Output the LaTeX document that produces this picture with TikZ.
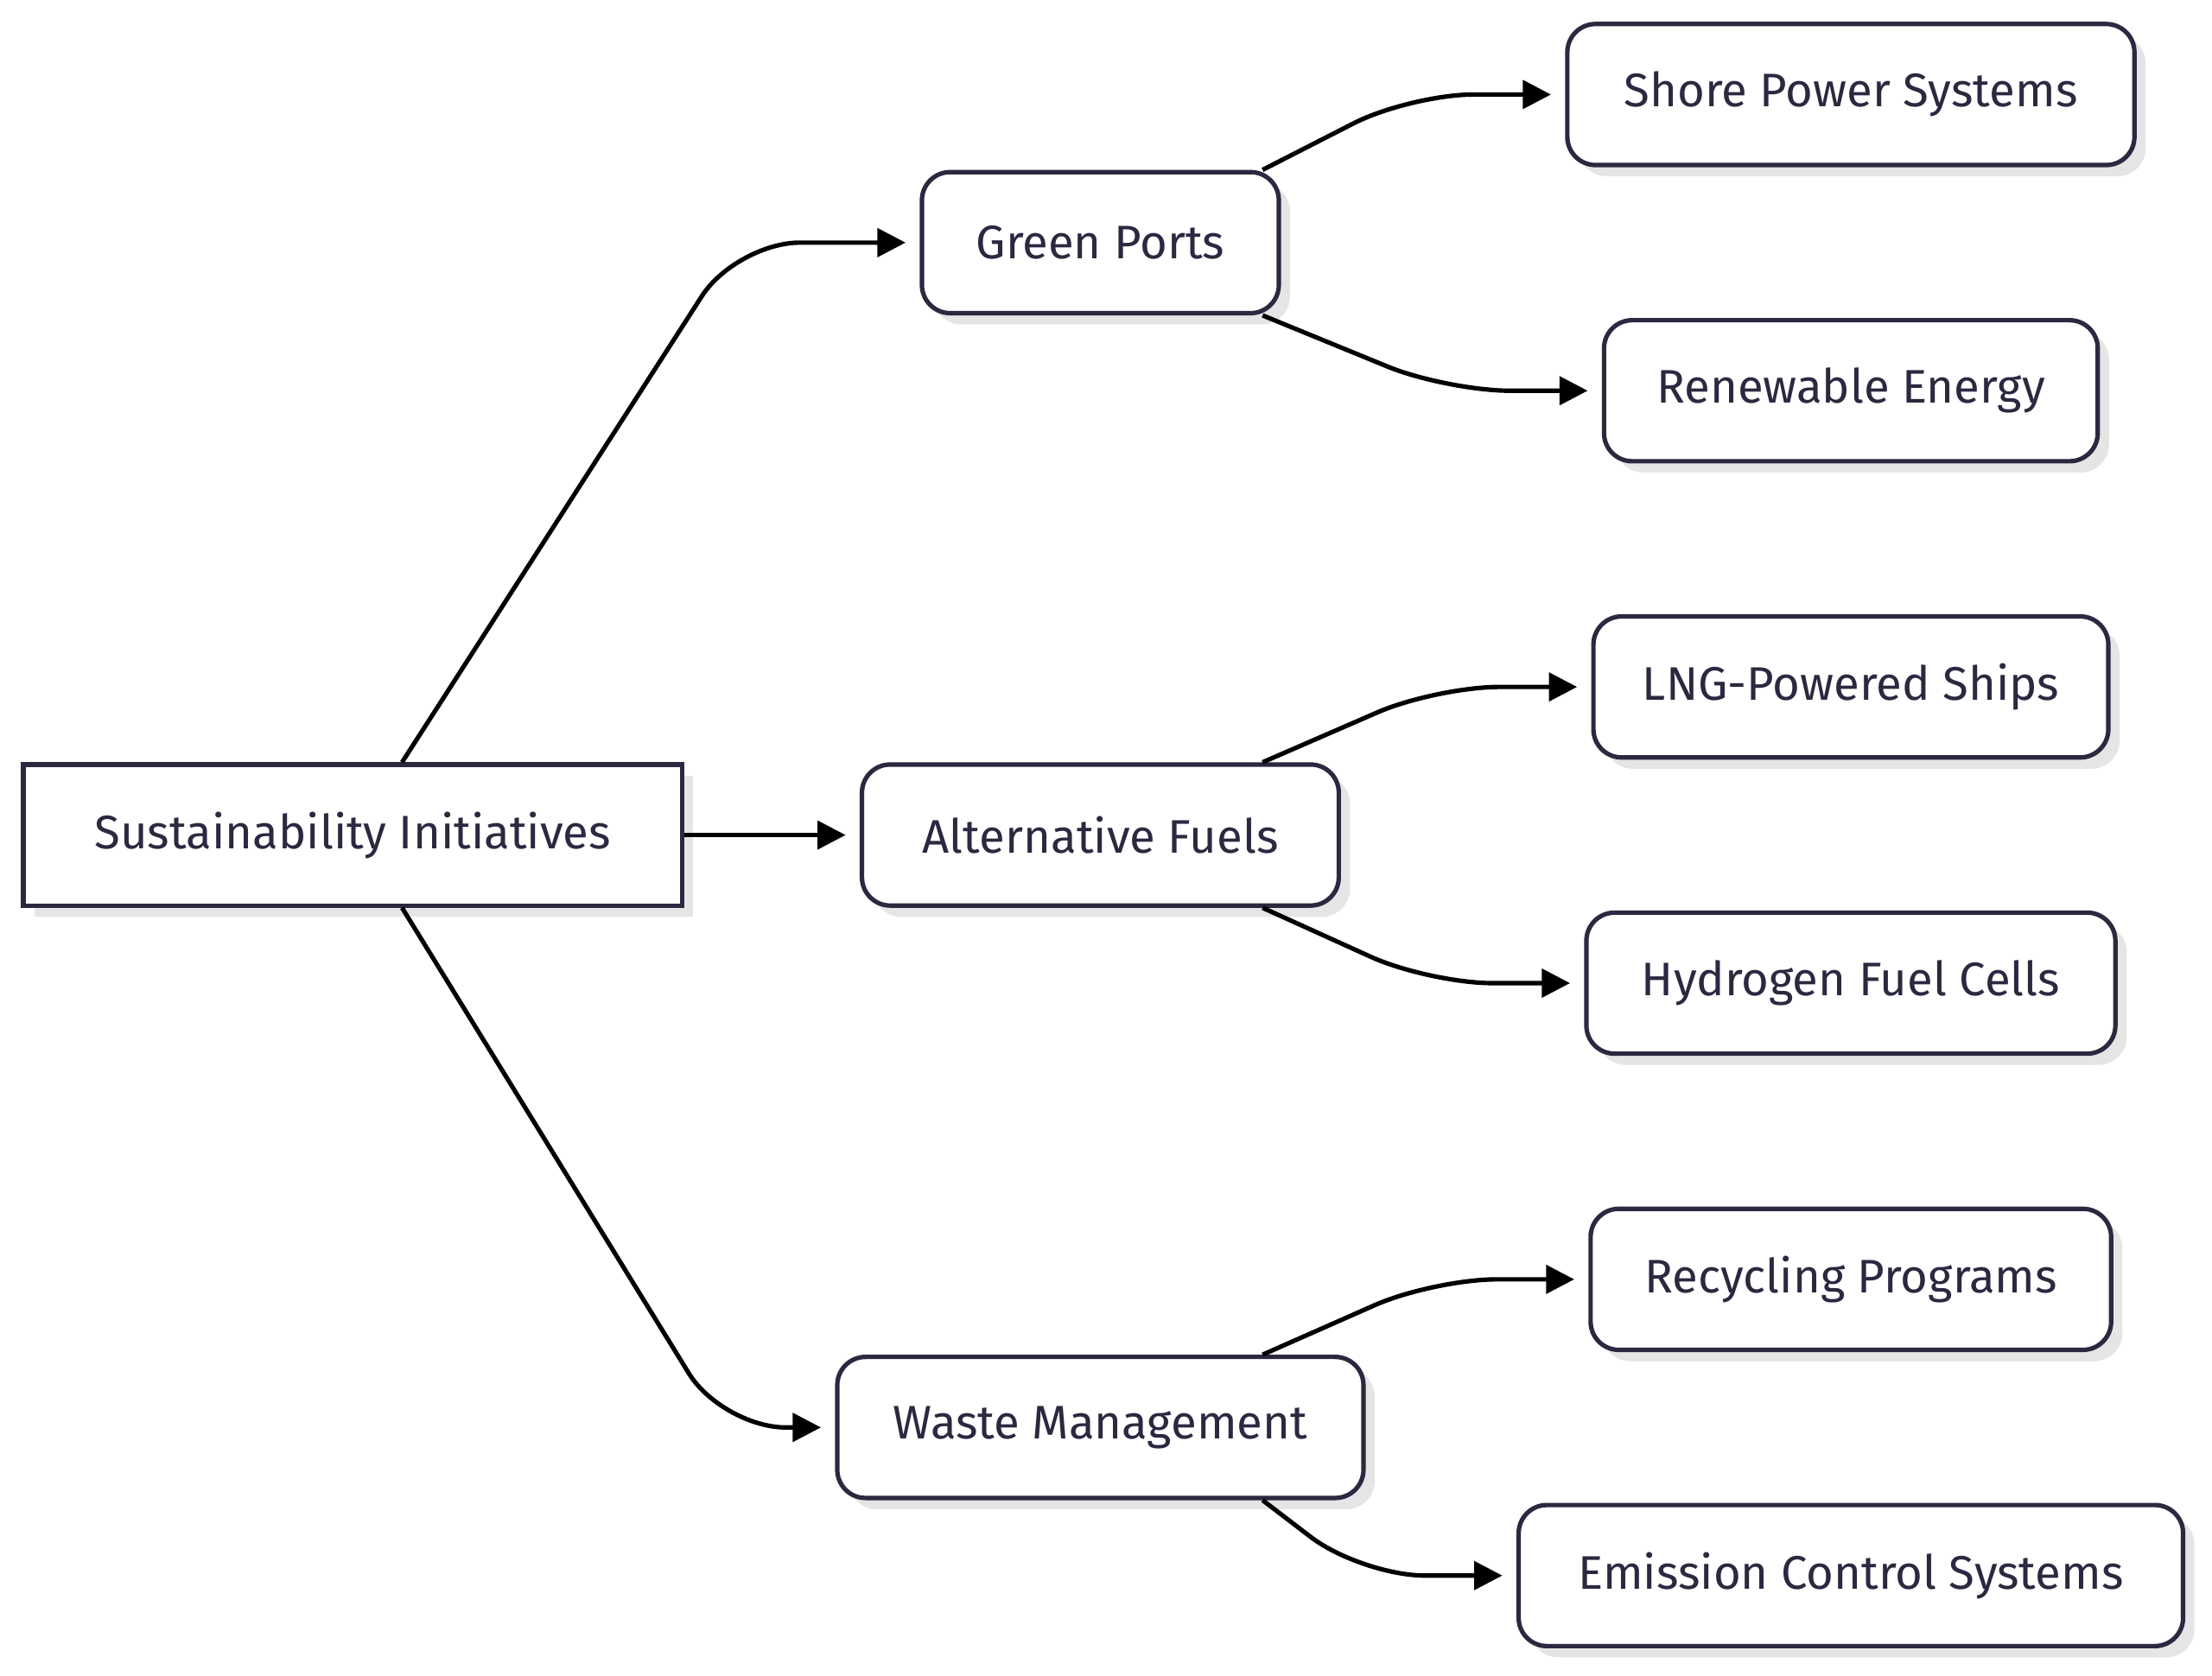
\documentclass[tikz,border=0pt]{standalone}
\usepackage{fontspec}
\setmainfont{Fira Sans}
\usetikzlibrary{positioning,arrows.meta,calc,shadows}
\definecolor{ink}{HTML}{2A2940}
\tikzset{
	box/.style={draw=ink, line width=0.9pt, minimum height=1cm, text=ink, font=\fontsize{9.5}{11}\selectfont, fill=white,
		drop shadow={shadow xshift=0.08cm, shadow yshift=-0.08cm, fill=black!10, opacity=1}}, % base look
	root/.style={box, rectangle},
	item/.style={box, rounded corners=0.2cm},
	link/.style={-{Triangle[length=0.2cm,width=0.2cm]}, line width=0.9pt, rounded corners=0.45cm},
}
\begin{document}
\begin{tikzpicture}
	\useasboundingbox (0,0) rectangle (15.68,-11.88);
	% main topic
	\node[root, minimum width=4.67cm] (si) at (2.50,-5.92) {Sustainability Initiatives};
	% second level
	\node[item, minimum width=2.53cm] (gp) at (7.80,-1.72) {Green Ports};
	\node[item, minimum width=3.38cm] (af) at (7.80,-5.92) {Alternative Fuels};
	\node[item, minimum width=3.73cm] (wm) at (7.80,-10.12) {Waste Management};
	% third level
	\node[item, minimum width=4.02cm] (sp) at (13.12,-0.67) {Shore Power Systems};
	\node[item, minimum width=3.50cm] (re) at (13.12,-2.77) {Renewable Energy};
	\node[item, minimum width=3.65cm] (lng) at (13.12,-4.87) {LNG-Powered Ships};
	\node[item, minimum width=3.75cm] (hfc) at (13.12,-6.97) {Hydrogen Fuel Cells};
	\node[item, minimum width=3.69cm] (rp) at (13.12,-9.07) {Recycling Programs};
	\node[item, minimum width=4.71cm] (ecs) at (13.12,-11.17) {Emission Control Systems};

	\draw[link] ([xshift=0.35cm]si.north) -- ([xshift=-1.3cm]gp.west) -- ([xshift=-0.1cm]gp.west);
	\draw[link] (si.east) -- ([xshift=-0.1cm]af.west);
	\draw[link] ([xshift=0.35cm]si.south) -- ([xshift=-0.8cm]wm.west) -- ([xshift=-0.1cm]wm.west);

	\foreach \p/\a/\b in {gp/sp/re, af/lng/hfc, wm/rp/ecs}{
		\draw[link] ([xshift=1.15cm]\p.north) -- ([xshift=-1.1cm]\a.west) -- ([xshift=-0.1cm]\a.west);
		\draw[link] ([xshift=1.15cm]\p.south) -- ([xshift=-1.1cm]\b.west) -- ([xshift=-0.1cm]\b.west);
	}
\end{tikzpicture}
\end{document}
